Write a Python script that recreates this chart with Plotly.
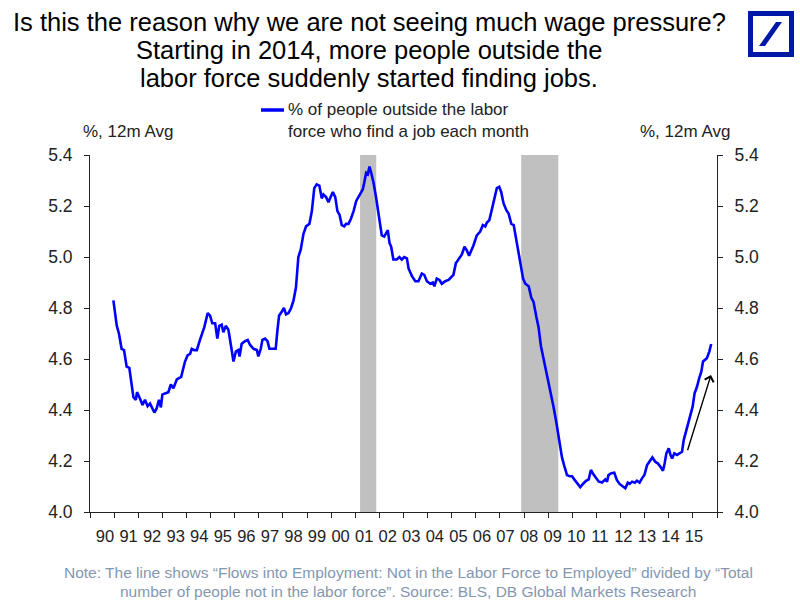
import plotly.graph_objects as go

# ---------------- data ----------------
dates = [1990.97, 1991.11, 1991.20, 1991.31, 1991.41, 1991.52, 1991.63, 1991.73, 1991.80, 1991.90,
         1991.95, 1992.07, 1992.18, 1992.28, 1992.39, 1992.49, 1992.59, 1992.67, 1992.76, 1992.86,
         1992.94, 1993.00, 1993.11, 1993.25, 1993.35, 1993.46, 1993.60, 1993.78, 1993.94, 1994.05,
         1994.15, 1994.22, 1994.32, 1994.43, 1994.56, 1994.74, 1994.88, 1994.98, 1995.07, 1995.19,
         1995.28, 1995.36, 1995.46, 1995.53, 1995.63, 1995.74, 1995.85, 1995.95, 1996.05, 1996.15,
         1996.20, 1996.29, 1996.43, 1996.54, 1996.64, 1996.78, 1996.92, 1996.98, 1997.08, 1997.15,
         1997.26, 1997.36, 1997.44, 1997.54, 1997.70, 1997.77, 1997.84, 1997.95, 1998.04, 1998.13,
         1998.23, 1998.34, 1998.44, 1998.54, 1998.64, 1998.74, 1998.85, 1998.96, 1999.10, 1999.20,
         1999.30, 1999.40, 1999.51, 1999.61, 1999.68, 1999.79, 1999.89, 1999.98, 2000.07, 2000.17,
         2000.26, 2000.35, 2000.44, 2000.54, 2000.62, 2000.72, 2000.82, 2000.93, 2001.04, 2001.13,
         2001.23, 2001.31, 2001.37, 2001.45, 2001.52, 2001.59, 2001.66, 2001.76, 2001.86, 2001.93,
         2002.00, 2002.10, 2002.20, 2002.31, 2002.35, 2002.42, 2002.49, 2002.58, 2002.72, 2002.83,
         2002.93, 2003.03, 2003.14, 2003.21, 2003.35, 2003.49, 2003.62, 2003.76, 2003.86, 2003.97,
         2004.11, 2004.22, 2004.28, 2004.38, 2004.49, 2004.59, 2004.73, 2004.87, 2005.00, 2005.07,
         2005.17, 2005.28, 2005.42, 2005.53, 2005.63, 2005.72, 2005.81, 2005.90, 2006.04, 2006.18,
         2006.29, 2006.39, 2006.46, 2006.56, 2006.66, 2006.76, 2006.87, 2006.97, 2007.05, 2007.15,
         2007.26, 2007.36, 2007.47, 2007.57, 2007.66, 2007.77, 2007.87, 2007.96, 2008.05, 2008.19,
         2008.30, 2008.39, 2008.51, 2008.60, 2008.70, 2008.81, 2008.92, 2009.02, 2009.11, 2009.22,
         2009.34, 2009.43, 2009.57, 2009.67, 2009.78, 2009.89, 2009.99, 2010.08, 2010.20, 2010.33,
         2010.44, 2010.57, 2010.68, 2010.77, 2010.86, 2010.95, 2011.09, 2011.23, 2011.37, 2011.44,
         2011.50, 2011.62, 2011.74, 2011.85, 2011.96, 2012.10, 2012.20, 2012.30, 2012.38, 2012.48,
         2012.59, 2012.68, 2012.79, 2012.89, 2012.99, 2013.10, 2013.21, 2013.32, 2013.44, 2013.54,
         2013.65, 2013.76, 2013.83, 2013.90, 2014.00, 2014.07, 2014.14, 2014.23, 2014.34, 2014.48,
         2014.55, 2014.62, 2014.71, 2014.80, 2014.90, 2014.99, 2015.07, 2015.17, 2015.26, 2015.35,
         2015.42, 2015.51, 2015.58, 2015.68, 2015.76]

values = [4.83, 4.73, 4.70, 4.64, 4.635, 4.57, 4.565, 4.49, 4.45, 4.44,
          4.47, 4.445, 4.42, 4.44, 4.415, 4.425, 4.405, 4.39, 4.405, 4.44,
          4.41, 4.46, 4.465, 4.47, 4.50, 4.485, 4.52, 4.53, 4.59, 4.615,
          4.62, 4.64, 4.635, 4.635, 4.675, 4.725, 4.78, 4.77, 4.74, 4.74,
          4.68, 4.73, 4.735, 4.705, 4.73, 4.715, 4.65, 4.59, 4.63, 4.635,
          4.61, 4.66, 4.67, 4.675, 4.655, 4.64, 4.635, 4.61, 4.64, 4.675,
          4.68, 4.67, 4.64, 4.64, 4.64, 4.71, 4.77, 4.785, 4.80, 4.775,
          4.78, 4.80, 4.83, 4.88, 5.00, 5.03, 5.09, 5.12, 5.13, 5.18,
          5.27, 5.285, 5.28, 5.23, 5.245, 5.235, 5.215, 5.235, 5.255, 5.235,
          5.18, 5.165, 5.125, 5.12, 5.13, 5.13, 5.15, 5.18, 5.22, 5.235,
          5.25, 5.265, 5.29, 5.33, 5.325, 5.355, 5.33, 5.29, 5.235, 5.185,
          5.15, 5.085, 5.08, 5.10, 5.105, 5.055, 5.04, 4.99, 4.99, 5.00,
          4.99, 5.00, 4.995, 4.955, 4.925, 4.905, 4.905, 4.935, 4.93, 4.905,
          4.895, 4.90, 4.885, 4.915, 4.91, 4.895, 4.905, 4.91, 4.925, 4.93,
          4.975, 4.99, 5.01, 5.04, 5.025, 5.005, 5.025, 5.045, 5.085, 5.10,
          5.125, 5.12, 5.135, 5.145, 5.185, 5.225, 5.27, 5.275, 5.255, 5.21,
          5.185, 5.17, 5.13, 5.125, 5.08, 5.015, 4.96, 4.915, 4.895, 4.885,
          4.84, 4.825, 4.765, 4.725, 4.65, 4.60, 4.555, 4.505, 4.47, 4.413,
          4.35, 4.30, 4.215, 4.18, 4.145, 4.14, 4.14, 4.128, 4.115, 4.097,
          4.11, 4.122, 4.128, 4.165, 4.15, 4.14, 4.12, 4.116, 4.128, 4.119,
          4.145, 4.152, 4.154, 4.125, 4.11, 4.10, 4.093, 4.115, 4.11, 4.119,
          4.115, 4.123, 4.115, 4.132, 4.145, 4.184, 4.197, 4.214, 4.197, 4.191,
          4.178, 4.162, 4.191, 4.23, 4.25, 4.224, 4.21, 4.23, 4.224, 4.234,
          4.236, 4.282, 4.315, 4.341, 4.387, 4.413, 4.465, 4.491, 4.524, 4.55,
          4.59, 4.596, 4.603, 4.629, 4.659]

recession_start = [2001.20, 2007.88]
recession_end = [2001.87, 2009.42]

year_labels = ["90", "91", "92", "93", "94", "95", "96", "97", "98", "99", "00", "01", "02",
               "03", "04", "05", "06", "07", "08", "09", "10", "11", "12", "13", "14", "15"]
first_year = 1990

y_ticks = [4.0, 4.2, 4.4, 4.6, 4.8, 5.0, 5.2, 5.4]

series_name = "% of people outside the labor<br>force who find a job each month"
title_lines = ["Is this the reason why we are not seeing much wage pressure?",
               "Starting in 2014, more people outside the",
               "labor force suddenly started finding jobs."]
note_lines = ["Note: The line shows \u201cFlows into Employment: Not in the Labor Force to Employed\u201d divided by \u201cTotal",
              "number of people not in the labor force\u201d. Source: BLS, DB Global Markets Research"]

# ---------------- layout geometry ----------------
W, H = 800, 600
L, R, T, B = 90, 717, 155, 512  # plot area in pixels
X_SPAN = 26.0
PX_PER_YEAR = (R - L) / X_SPAN


def px(xpix):
    return (xpix - L) / (R - L)


def py(ypix):
    return (B - ypix) / (B - T)


FONT = "Arial, Liberation Sans, Helvetica, sans-serif"
AXC = "#222222"
BLUE = "#0000FF"
DBBLUE = "#0018A8"

fig = go.Figure()

# recession shading
shapes = []
for s, e in zip(recession_start, recession_end):
    shapes.append(dict(type="rect", xref="x", yref="y", x0=s, x1=e, y0=4.0, y1=5.408,
                       fillcolor="#C0C0C0", line=dict(width=0), layer="below"))

fig.add_trace(go.Scatter(x=dates, y=values, mode="lines", name=series_name.replace("<br>", " "),
                         line=dict(color=BLUE, width=2.6), showlegend=False, hoverinfo="x+y"))
# invisible trace to activate the right axis and the label axis
fig.add_trace(go.Scatter(x=dates, y=values, mode="lines", xaxis="x2", yaxis="y2", showlegend=False,
                         line=dict(color="rgba(0,0,0,0)", width=0), hoverinfo="skip"))

years = list(range(first_year, first_year + len(year_labels) + 1))
# year labels sit a little inside each year's slot (as in the source chart)
label_pos = [first_year + (15 + 23.56 * i) / PX_PER_YEAR for i in range(len(year_labels))]

fig.update_layout(
    width=W, height=H,
    margin=dict(l=L, r=W - R, t=T, b=H - B, pad=0),
    paper_bgcolor="white", plot_bgcolor="white",
    font=dict(family=FONT, color=AXC),
    xaxis=dict(range=[first_year, first_year + X_SPAN], showgrid=False, zeroline=False,
               showline=True, linecolor=AXC, linewidth=1,
               tickmode="array", tickvals=years, ticktext=[""] * len(years),
               ticks="outside", ticklen=5, tickcolor=AXC, tickwidth=1),
    xaxis2=dict(range=[first_year, first_year + X_SPAN], overlaying="x", side="bottom",
                showgrid=False, zeroline=False, showline=False,
                tickmode="array", tickvals=label_pos, ticktext=year_labels, ticks="",
                tickfont=dict(size=16.5, color=AXC, family=FONT), ticklabelstandoff=12),
    yaxis=dict(range=[4.0, 5.4], showgrid=False, zeroline=False, showline=True,
               linecolor=AXC, linewidth=1, tickmode="array", tickvals=y_ticks,
               tickformat=".1f", ticks="outside", ticklen=5, tickcolor=AXC,
               tickfont=dict(size=17.5, color=AXC, family=FONT), ticklabelstandoff=8),
    yaxis2=dict(range=[4.0, 5.4], overlaying="y", side="right", showgrid=False,
                zeroline=False, showline=True, linecolor=AXC, linewidth=1,
                tickmode="array", tickvals=y_ticks, tickformat=".1f", ticks="outside",
                ticklen=5, tickcolor=AXC, tickfont=dict(size=17.5, color=AXC, family=FONT),
                ticklabelstandoff=8),
)

annotations = []
# title lines
for txt, yc in zip(title_lines, [22, 50, 78]):
    annotations.append(dict(text=txt, xref="paper", yref="paper", x=px(369), y=py(yc),
                            xanchor="center", yanchor="middle", showarrow=False,
                            font=dict(size=25.5, color="#000000", family=FONT)))
# axis unit labels
annotations.append(dict(text="%, 12m Avg", xref="paper", yref="paper", x=px(81), y=py(131),
                        xanchor="left", yanchor="middle", showarrow=False,
                        font=dict(size=17, color=AXC, family=FONT)))
annotations.append(dict(text="%, 12m Avg", xref="paper", yref="paper", x=px(638), y=py(131),
                        xanchor="left", yanchor="middle", showarrow=False,
                        font=dict(size=17, color=AXC, family=FONT)))
# legend text
annotations.append(dict(text=series_name, xref="paper", yref="paper", x=px(286), y=py(120.5),
                        xanchor="left", yanchor="middle", align="left", showarrow=False,
                        font=dict(size=17, color=AXC, family=FONT)))
# notes
for txt, yc in zip(note_lines, [572, 591]):
    annotations.append(dict(text=txt, xref="paper", yref="paper", x=px(408), y=py(yc),
                            xanchor="center", yanchor="middle", showarrow=False,
                            font=dict(size=15.5, color="#8497B0", family=FONT)))
# arrow
annotations.append(dict(text="", x=2015.75, y=4.537, xref="x", yref="y",
                        ax=2014.76, ay=4.236, axref="x", ayref="y",
                        showarrow=True, arrowhead=4, arrowsize=1.3, arrowwidth=1.4,
                        arrowcolor="#000000"))

# legend line sample
shapes.append(dict(type="line", xref="paper", yref="paper", x0=px(261), x1=px(284),
                   y0=py(110), y1=py(110), line=dict(color=BLUE, width=3.5)))

# Deutsche Bank logo
shapes.append(dict(type="rect", xref="paper", yref="paper", x0=px(748), x1=px(794),
                   y0=py(57), y1=py(11), fillcolor=DBBLUE, line=dict(width=0)))
shapes.append(dict(type="rect", xref="paper", yref="paper", x0=px(753), x1=px(789),
                   y0=py(52), y1=py(16), fillcolor="white", line=dict(width=0)))
slash = [(759, 46), (765, 46), (782, 22), (776, 22)]
path = "M " + " L ".join(f"{px(a):.5f},{py(b):.5f}" for a, b in slash) + " Z"
shapes.append(dict(type="path", xref="paper", yref="paper", path=path,
                   fillcolor=DBBLUE, line=dict(width=0)))

fig.update_layout(shapes=shapes, annotations=annotations)

fig.write_html("out.html")
